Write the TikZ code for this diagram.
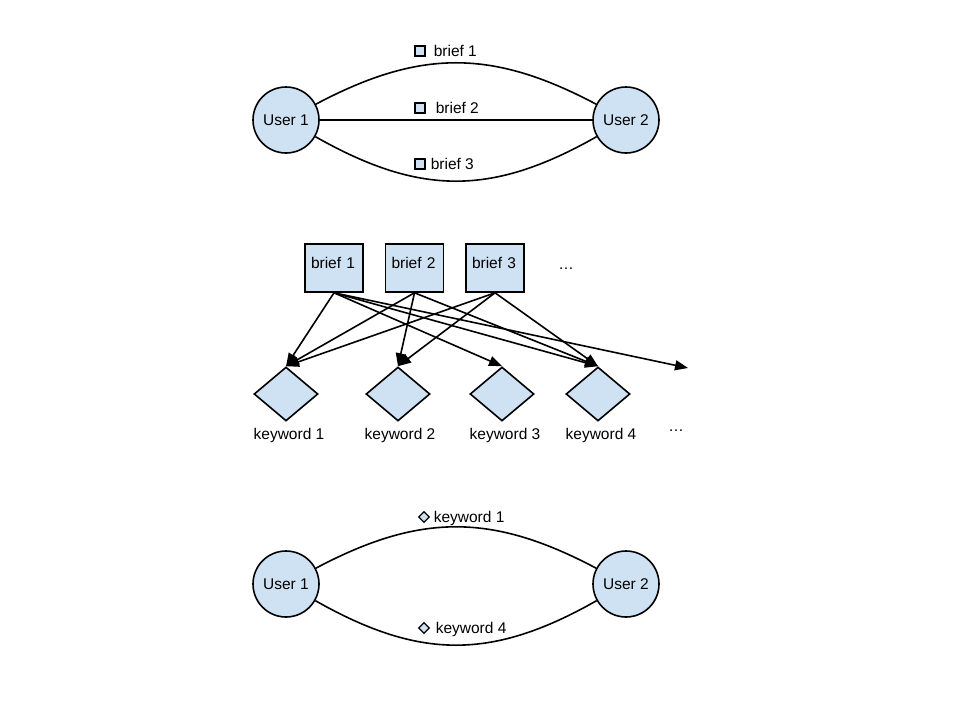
\documentclass[tikz,border=0pt]{standalone}
\usepackage{fontspec}
\setmainfont{Liberation Sans}
\usetikzlibrary{shapes.geometric,arrows.meta}
\definecolor{lb}{HTML}{CFE2F3}
\newcommand{\dfont}{\fontsize{15.5}{18}\selectfont}
\begin{document}
\begin{tikzpicture}[x=1pt,y=-1pt, line width=1.6pt,
 user/.style={circle,draw,fill=lb,minimum size=66pt,inner sep=0pt,font=\dfont},
 briefbox/.style={rectangle,draw,fill=lb,minimum width=58pt,minimum height=48pt,inner sep=0pt,text height=12pt,text depth=12pt,font=\dfont},
 kw/.style={diamond,draw,fill=lb,minimum width=64pt,minimum height=54pt,inner sep=0pt},
 lbl/.style={inner sep=0pt,font=\dfont},
 sq/.style={rectangle,draw,fill=lb,minimum size=10pt,inner sep=0pt,line width=1.3pt},
 sdm/.style={diamond,draw,fill=lb,minimum size=11pt,inner sep=0pt,line width=1.3pt},
 arr/.style={-{Triangle[length=13pt,width=10pt]}},
]
\useasboundingbox (0,0) rectangle (960,720);

% ---------- top section ----------
\node[user] (ua) at (286,120) {User 1};
\node[user] (ub) at (626,120) {User 2};
\draw (ua) .. controls (420,49) and (492,49) .. (ub);
\draw (ua) -- (ub);
\draw (ua) .. controls (420,196) and (492,196) .. (ub);
\node[sq] (s1) at (420,51) {};
\node[lbl,anchor=base west] (t1) at (433,56.5) {brief 1};
\node[sq] (s2) at (420,108) {};
\node[lbl,anchor=base west] (t2) at (435,113.5) {brief 2};
\node[sq] (s3) at (420,164) {};
\node[lbl,anchor=base west] (t3) at (430,169.5) {brief 3};

% ---------- middle section ----------
\node[briefbox,text width=46pt] (b1) at (334,268) {brief 1};
\node[briefbox,text width=46pt] (b2) at (414.5,268) {brief 2};
\node[briefbox,text width=46pt] (b3) at (495,268) {brief 3};
\node[lbl,anchor=base] (d1) at (566,269) {…};

\node[kw] (k1) at (286,394) {};
\node[kw] (k2) at (398,394) {};
\node[kw] (k3) at (502,394) {};
\node[kw] (k4) at (598,394) {};
\coordinate (kf) at (688,368);

\node[lbl,anchor=base] (l1) at (289,439) {keyword 1};
\node[lbl,anchor=base] (l2) at (400,439) {keyword 2};
\node[lbl,anchor=base] (l3) at (505,439) {keyword 3};
\node[lbl,anchor=base] (l4) at (601,439) {keyword 4};
\node[lbl,anchor=base] (d2) at (676,431) {…};

\draw[arr] (b1.south) -- (k1.north);
\draw[arr] (b1.south) -- (k3.north);
\draw[arr] (b1.south) -- (k4.north);
\draw[arr] (b1.south) -- (kf);
\draw[arr] (b2.south) -- (k1.north);
\draw[arr] (b2.south) -- (k2.north);
\draw[arr] (b2.south) -- (k4.north);
\draw[arr] (b3.south) -- (k1.north);
\draw[arr] (b3.south) -- (k2.north);
\draw[arr] (b3.south) -- (k4.north);

% ---------- bottom section ----------
\node[user] (uc) at (286,584) {User 1};
\node[user] (ud) at (626,584) {User 2};
\draw (uc) .. controls (420,513) and (492,513) .. (ud);
\draw (uc) .. controls (420,660) and (492,660) .. (ud);
\node[sdm] (m1) at (424,517) {};
\node[lbl,anchor=base west] (n1) at (433,522.5) {keyword 1};
\node[sdm] (m4) at (424,628) {};
\node[lbl,anchor=base west] (n4) at (435,633.5) {keyword 4};
\end{tikzpicture}
\end{document}
